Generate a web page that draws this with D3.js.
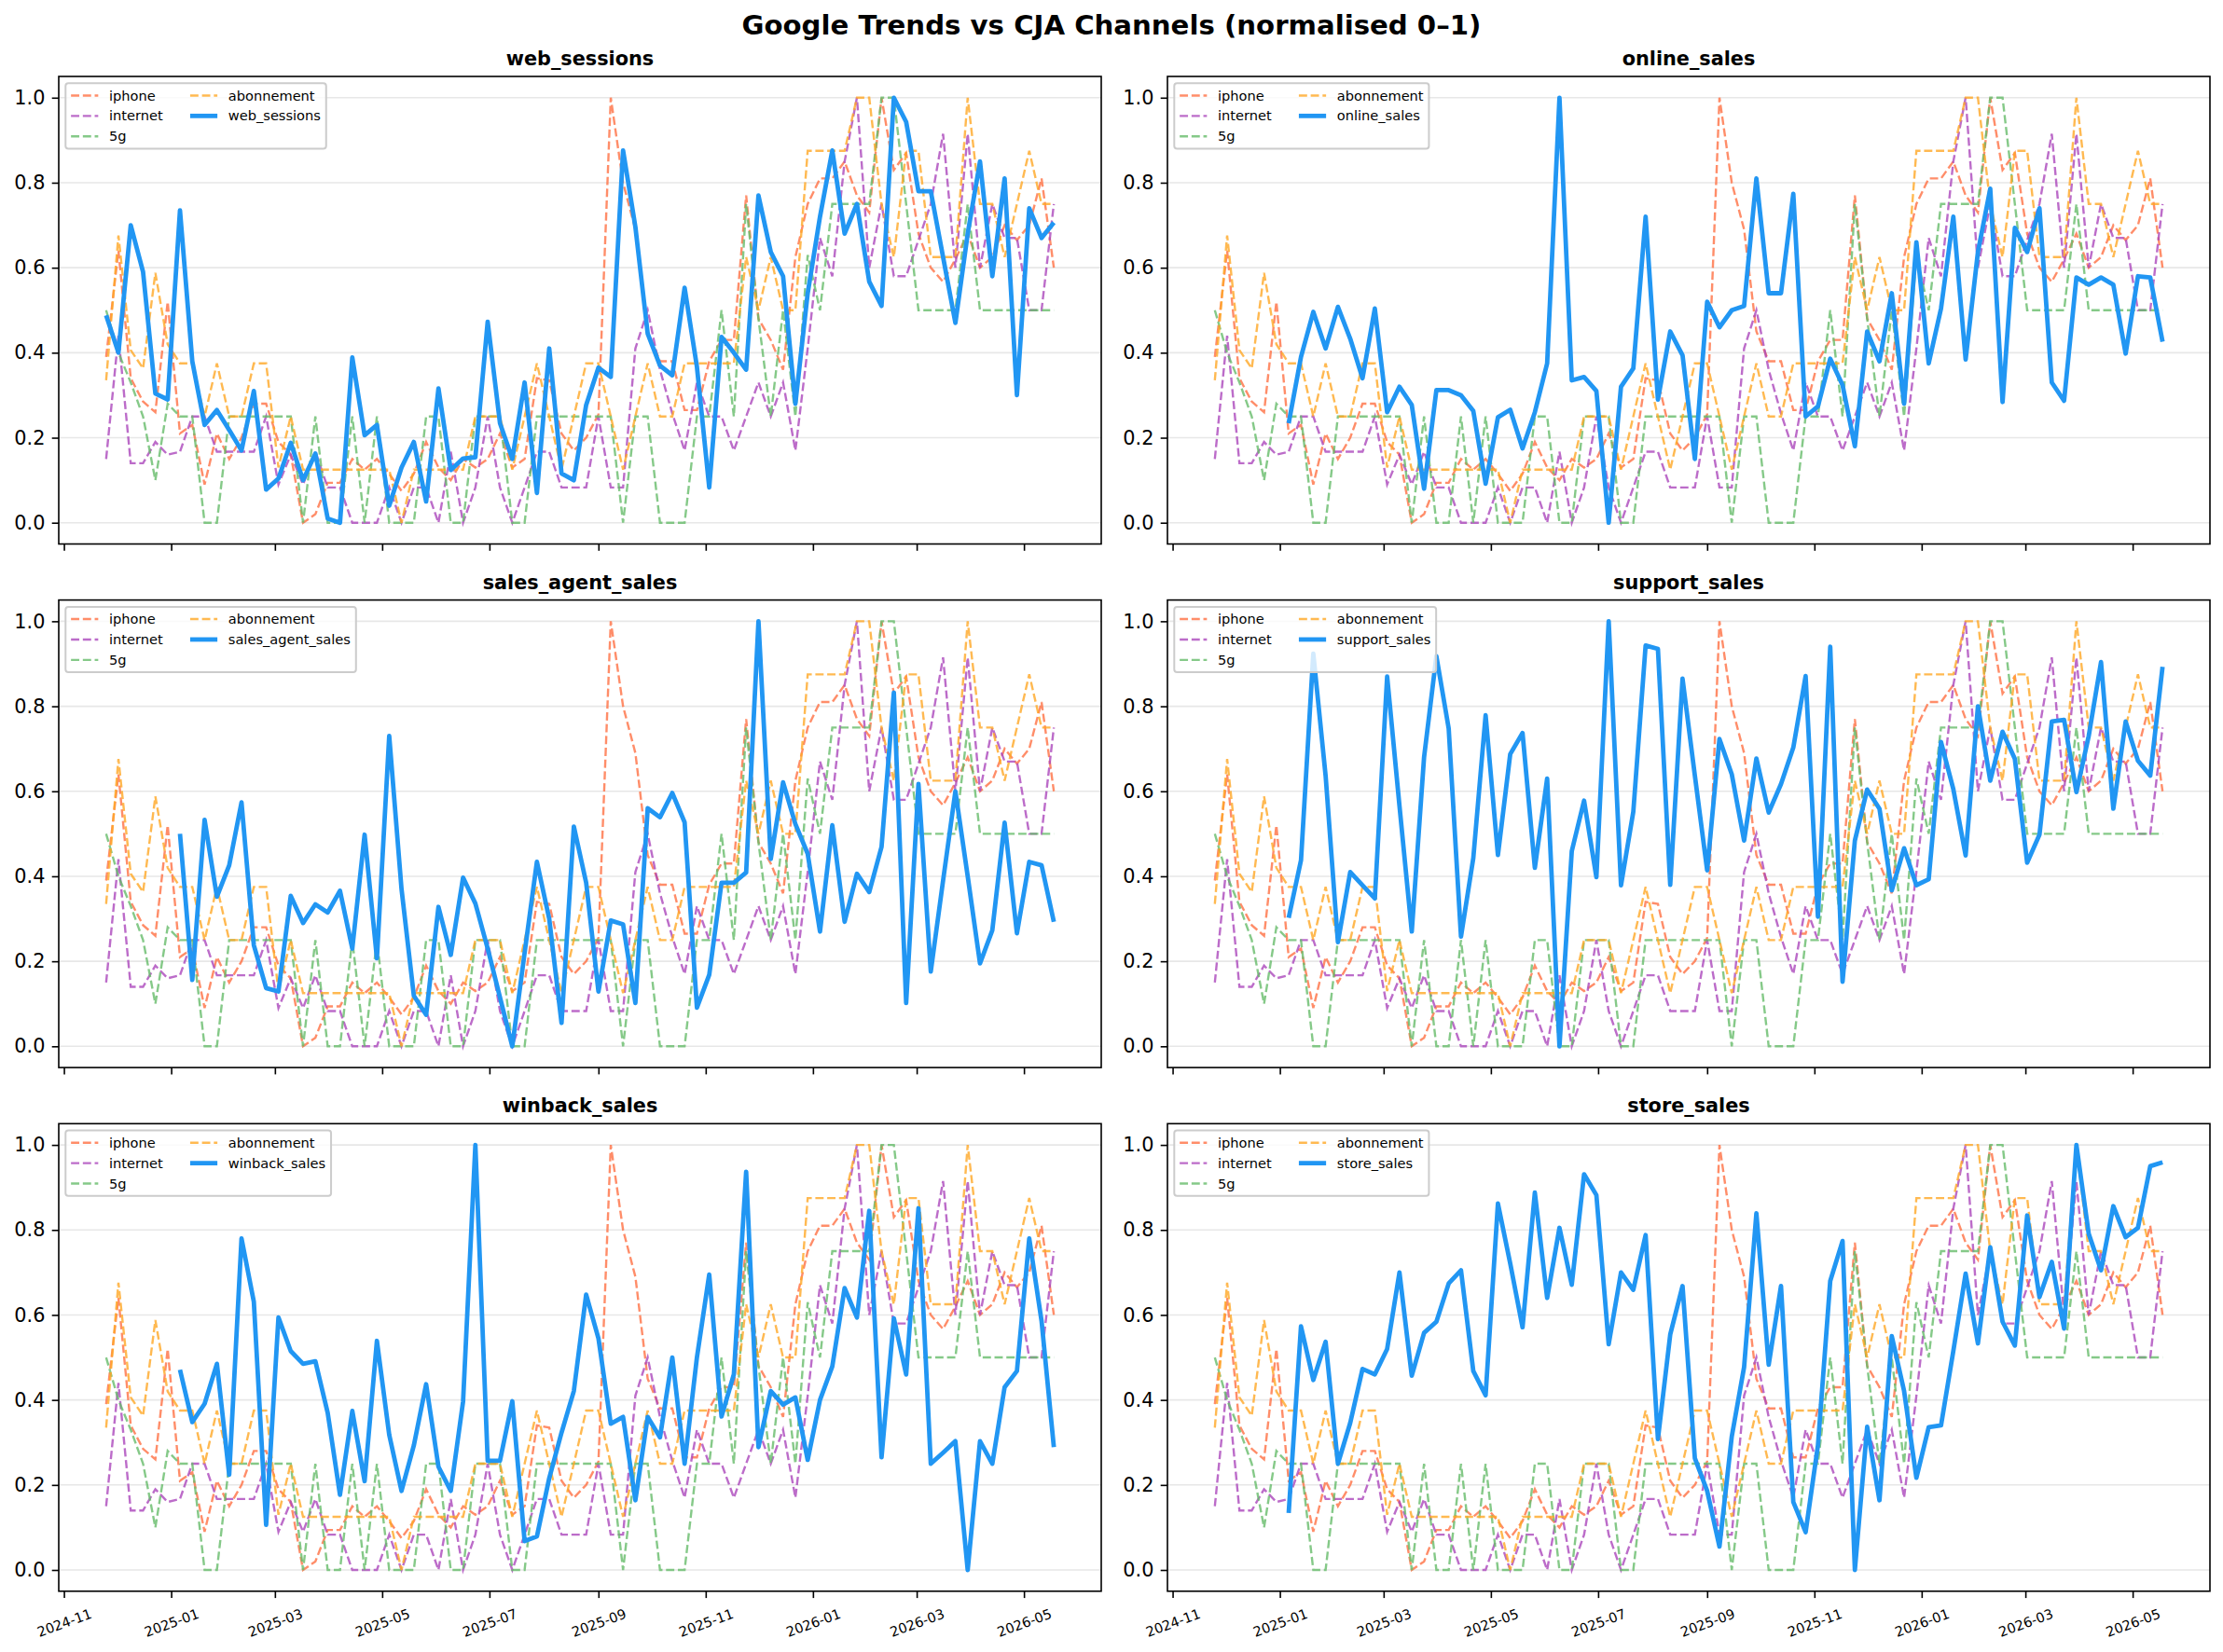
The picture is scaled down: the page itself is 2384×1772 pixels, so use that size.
<!DOCTYPE html>
<html>
<head>
<meta charset="utf-8">
<script src="https://cdn.jsdelivr.net/npm/d3@7"></script>
<style>
  body { margin: 0; background: #fff; }
  svg text { font-family: "DejaVu Sans", sans-serif; }
</style>
</head>
<body>
<svg id="chart" width="2384" height="1772"></svg>
<script>
// weekly index (Mondays), 78 weeks
const firstWeek = "2024-11-25";
const weekCount = 78;

// Google Trends keywords (normalised 0-1)
const iphone = [0.39,0.64,0.34,0.285,0.26,0.52,0.21,0.23,0.09,0.21,
  0.15,0.2,0.28,0.28,0.19,0.16,0.0,0.02,0.094,0.094,
  0.15,0.125,0.15,0.115,0.075,0.115,0.19,0.13,0.1,0.15,
  0.13,0.15,0.21,0.13,0.15,0.34,0.335,0.21,0.17,0.2,
  0.255,1.0,0.8,0.69,0.45,0.38,0.38,0.265,0.265,0.38,
  0.43,0.43,0.77,0.48,0.43,0.36,0.625,0.75,0.81,0.81,
  0.85,0.77,0.73,1.0,0.83,0.87,0.68,0.6,0.567,0.62,
  0.68,0.6,0.625,0.7,0.665,0.7,0.81,0.6];
const internet = [0.15,0.44,0.14,0.14,0.19,0.16,0.167,0.25,0.25,0.167,
  0.167,0.167,0.167,0.25,0.09,0.16,0.09,0.167,0.083,0.083,
  0,0,0,0.083,0,0.083,0.083,0,0.167,0,
  0.083,0.25,0.083,0,0.083,0.167,0.167,0.083,0.083,0.083,
  0.25,0.083,0.083,0.41,0.5,0.36,0.257,0.17,0.33,0.25,
  0.25,0.17,0.25,0.33,0.25,0.33,0.17,0.41,0.67,0.58,
  0.85,1.0,0.6,0.75,0.58,0.58,0.665,0.75,0.915,0.6,
  0.915,0.6,0.75,0.67,0.67,0.5,0.5,0.75];
const fiveG = [0.5,0.4,0.33,0.25,0.1,0.28,0.25,0.25,0,0,
  0.25,0.25,0.25,0.25,0.25,0.25,0,0.25,0,0,
  0.25,0,0.25,0,0,0,0.25,0.25,0,0,
  0.25,0.25,0.25,0,0,0.25,0.25,0.25,0.25,0.25,
  0.25,0.25,0,0.25,0.25,0,0,0,0.25,0.25,
  0.5,0.25,0.75,0.48,0.25,0.5,0.25,0.63,0.5,0.75,
  0.75,0.75,0.75,1.0,1.0,0.75,0.5,0.5,0.5,0.5,
  0.75,0.5,0.5,0.5,0.5,0.5,0.5,0.5];
const abonnement = [0.335,0.676,0.406,0.363,0.588,0.42,0.375,0.375,0.25,0.375,
  0.25,0.25,0.375,0.375,0.13,0.25,0.125,0.125,0.125,0.125,
  0.125,0.125,0.125,0.125,0,0.125,0.125,0.125,0.125,0.125,
  0.25,0.25,0.25,0.125,0.25,0.375,0.25,0.125,0.25,0.375,
  0.375,0.25,0.125,0.25,0.375,0.25,0.25,0.375,0.375,0.375,
  0.375,0.375,0.625,0.5,0.625,0.5,0.5,0.875,0.875,0.875,
  0.875,1.0,1.0,0.75,0.625,0.875,0.875,0.625,0.625,0.625,
  1.0,0.75,0.75,0.625,0.75,0.875,0.75,0.75];

// CJA channels (normalised 0-1), null = no data that week
const webSessions = [0.488,0.40,0.70,0.59,0.304,0.29,0.735,0.38,0.23,0.265,
  0.218,0.17,0.31,0.078,0.104,0.188,0.10,0.163,0.01,0.0,
  0.389,0.206,0.23,0.04,0.13,0.19,0.05,0.316,0.124,0.151,
  0.154,0.473,0.234,0.15,0.33,0.07,0.41,0.116,0.10,0.277,
  0.365,0.343,0.876,0.696,0.445,0.37,0.347,0.553,0.367,0.083,
  0.437,0.40,0.36,0.77,0.637,0.58,0.28,0.54,0.72,0.876,
  0.68,0.75,0.567,0.51,1.0,0.943,0.78,0.78,0.625,0.47,
  0.68,0.85,0.58,0.81,0.30,0.74,0.67,0.706];
const onlineSales = [null,null,null,null,null,null,0.234,0.39,0.496,0.41,
  0.508,0.433,0.34,0.504,0.26,0.32,0.277,0.08,0.312,0.312,
  0.30,0.263,0.092,0.248,0.266,0.175,0.26,0.375,1.0,0.335,
  0.343,0.31,0.0,0.32,0.363,0.72,0.29,0.45,0.394,0.15,
  0.52,0.46,0.5,0.51,0.81,0.54,0.54,0.774,0.25,0.274,
  0.386,0.324,0.18,0.45,0.38,0.54,0.28,0.66,0.375,0.504,
  0.72,0.384,0.637,0.786,0.284,0.694,0.637,0.74,0.33,0.287,
  0.577,0.56,0.577,0.56,0.398,0.58,0.577,0.426];
const salesAgentSales = [null,null,null,null,null,null,0.5,0.156,0.533,0.352,
  0.426,0.574,0.238,0.137,0.129,0.354,0.29,0.334,0.315,0.366,
  0.23,0.498,0.207,0.73,0.37,0.119,0.074,0.328,0.215,0.397,
  0.336,0.23,0.115,0.0,0.22,0.434,0.30,0.055,0.517,0.385,
  0.129,0.296,0.287,0.102,0.56,0.539,0.596,0.527,0.091,0.168,
  0.385,0.385,0.409,1.0,0.441,0.621,0.523,0.453,0.27,0.52,
  0.293,0.406,0.363,0.469,0.832,0.102,0.617,0.176,0.39,0.6,
  0.40,0.195,0.273,0.526,0.266,0.434,0.426,0.293];
const supportSales = [null,null,null,null,null,null,0.302,0.4375,0.924,0.637,
  0.245,0.41,0.379,0.348,0.87,0.566,0.27,0.68,0.918,0.748,
  0.258,0.443,0.779,0.45,0.6875,0.737,0.42,0.63,0.0,0.459,
  0.578,0.398,1.0,0.379,0.552,0.943,0.935,0.38,0.865,0.637,
  0.414,0.723,0.64,0.484,0.677,0.55,0.617,0.703,0.871,0.305,
  0.94,0.152,0.484,0.604,0.559,0.367,0.466,0.379,0.393,0.716,
  0.605,0.449,0.80,0.625,0.74,0.676,0.432,0.498,0.764,0.768,
  0.598,0.73,0.904,0.559,0.764,0.672,0.637,0.893];
const winbackSales = [null,null,null,null,null,null,0.471,0.348,0.391,0.485,
  0.224,0.78,0.631,0.106,0.594,0.515,0.485,0.491,0.37,0.177,
  0.374,0.209,0.539,0.318,0.186,0.293,0.437,0.243,0.186,0.396,
  1.0,0.257,0.257,0.397,0.068,0.079,0.216,0.323,0.421,0.648,
  0.545,0.344,0.36,0.164,0.36,0.312,0.5,0.25,0.5,0.695,
  0.361,0.46,0.937,0.289,0.421,0.389,0.406,0.259,0.4,0.479,
  0.663,0.594,0.845,0.265,0.592,0.46,0.851,0.25,0.276,0.303,
  0.0,0.303,0.25,0.43,0.468,0.78,0.586,0.289];
const storeSales = [null,null,null,null,null,null,0.134,0.573,0.447,0.537,
  0.25,0.346,0.473,0.46,0.52,0.7,0.457,0.558,0.584,0.674,
  0.705,0.468,0.411,0.862,0.721,0.571,0.888,0.64,0.805,0.671,
  0.931,0.882,0.531,0.7,0.659,0.788,0.308,0.554,0.668,0.263,
  0.186,0.055,0.314,0.477,0.839,0.483,0.668,0.16,0.089,0.293,
  0.68,0.774,0.0,0.337,0.164,0.55,0.421,0.217,0.336,0.34,
  0.515,0.697,0.533,0.759,0.584,0.528,0.834,0.642,0.725,0.568,
  1.0,0.791,0.705,0.856,0.783,0.805,0.95,0.959];

const trendNames = ["iphone", "internet", "5g", "abonnement"];
const channelNames = ["web_sessions", "online_sales", "sales_agent_sales",
                      "support_sales", "winback_sales", "store_sales"];
const yTicks = [0, 0.2, 0.4, 0.6, 0.8, 1.0];

const trendColors = ["#FF7043", "#AB47BC", "#66BB6A", "#FFA726"];
const channelColor = "#2196F3";

// tables built from the arrays above
const start = d3.utcParse("%Y-%m-%d")(firstWeek);
const weeks = d3.range(weekCount).map(i => d3.utcDay.offset(start, 7 * i));
const trends = [iphone, internet, fiveG, abonnement].map((v, i) =>
  ({ name: trendNames[i], values: v, color: trendColors[i] }));
const channels = [webSessions, onlineSales, salesAgentSales,
                  supportSales, winbackSales, storeSales].map((v, i) =>
  ({ name: channelNames[i], values: v }));

// layout
const colX = [63, 1252], panelW = 1118;
const rowY = [82, 643.6, 1205.3], panelH = 501.5;
const fs = 14.6; // legend font size
const dashW = 2.4, dashes = "8.9,3.8";

const svg = d3.select("#chart");
svg.append("rect").attr("width", 2384).attr("height", 1772).attr("fill", "#fff");

svg.append("text")
  .attr("x", 1192).attr("y", 37)
  .attr("text-anchor", "middle")
  .attr("font-size", 29.2).attr("font-weight", "bold")
  .text("Google Trends vs CJA Channels (normalised 0\u20131)");

// 5% margin on the date range, like matplotlib
const span = weeks[weeks.length - 1] - weeks[0];
const xDomain = [new Date(+weeks[0] - span * 0.05),
                 new Date(+weeks[weeks.length - 1] + span * 0.05)];

channels.forEach((ch, i) => {
  const col = i % 2, row = Math.floor(i / 2);
  const left = colX[col], top = rowY[row];

  const x = d3.scaleUtc().domain(xDomain).range([left, left + panelW]);
  const y = d3.scaleLinear().domain([-0.05, 1.05]).range([top + panelH, top]);

  const g = svg.append("g");

  // horizontal grid
  g.selectAll(".grid").data(yTicks).join("line")
    .attr("x1", left).attr("x2", left + panelW)
    .attr("y1", d => y(d)).attr("y2", d => y(d))
    .attr("stroke", "#b0b0b0").attr("stroke-opacity", 0.3)
    .attr("stroke-width", 1.6);

  const line = d3.line()
    .defined(d => d != null)
    .x((d, k) => x(weeks[k]))
    .y(d => y(d));

  // trend lines, dashed
  trends.forEach(t => {
    g.append("path").datum(t.values)
      .attr("d", line)
      .attr("fill", "none")
      .attr("stroke", t.color).attr("stroke-opacity", 0.8)
      .attr("stroke-width", dashW)
      .attr("stroke-dasharray", dashes);
  });

  // channel line
  g.append("path").datum(ch.values)
    .attr("d", line)
    .attr("fill", "none")
    .attr("stroke", channelColor)
    .attr("stroke-width", 4.8)
    .attr("stroke-linejoin", "round");

  // frame
  g.append("rect")
    .attr("x", left).attr("y", top)
    .attr("width", panelW).attr("height", panelH)
    .attr("fill", "none").attr("stroke", "#000").attr("stroke-width", 1.6);

  // y axis
  const ya = g.append("g")
    .attr("transform", `translate(${left},0)`)
    .call(d3.axisLeft(y).tickValues(yTicks).tickFormat(d3.format(".1f"))
      .tickSize(7.3).tickPadding(7.3));
  ya.select(".domain").remove();
  ya.attr("font-family", "DejaVu Sans").attr("font-size", 20.8);
  ya.selectAll("line").attr("stroke", "#000").attr("stroke-width", 1.6);
  ya.selectAll("text").attr("fill", "#000");

  // x axis
  const xa = g.append("g")
    .attr("transform", `translate(0,${top + panelH})`)
    .call(d3.axisBottom(x).ticks(d3.utcMonth.every(2))
      .tickFormat(d3.utcFormat("%Y-%m")).tickSize(7.3));
  xa.select(".domain").remove();
  xa.attr("font-family", "DejaVu Sans").attr("font-size", 14.6);
  xa.selectAll("line").attr("stroke", "#000").attr("stroke-width", 1.6);
  if (row < 2) {
    xa.selectAll("text").remove();
  } else {
    xa.selectAll("text")
      .attr("fill", "#000")
      .attr("y", 0).attr("dy", "0.35em")
      .attr("text-anchor", "middle")
      .attr("transform", "translate(0,34) rotate(-20)");
  }

  // panel title
  g.append("text")
    .attr("x", left + panelW / 2).attr("y", top - 12)
    .attr("text-anchor", "middle")
    .attr("font-size", 20.8).attr("font-weight", "bold")
    .text(ch.name);

  // legend, two columns
  const items = trends.map(t => ({ label: t.name, color: t.color, dashed: true }))
    .concat([{ label: ch.name, color: channelColor, dashed: false }]);
  const lg = g.append("g").attr("transform", `translate(${left + 7.3},${top + 7.3})`);
  const box = lg.append("rect");
  const colOf = k => (k < 3 ? 0 : 1);
  const rowOf = k => (k < 3 ? k : k - 3);
  const texts = lg.selectAll(".lt").data(items).join("text")
    .attr("font-size", fs).attr("dy", "0.35em")
    .text(d => d.label);
  const colW = [0, 1].map(c => d3.max(texts.filter((d, k) => colOf(k) === c).nodes(),
    n => n.getComputedTextLength()));
  const colStart = [0.4 * fs, 0.4 * fs + 2.8 * fs + colW[0] + 2 * fs];
  texts
    .attr("x", (d, k) => colStart[colOf(k)] + 2.8 * fs)
    .attr("y", (d, k) => 0.9 * fs + rowOf(k) * 1.5 * fs);
  lg.selectAll(".lh").data(items).join("line")
    .attr("x1", (d, k) => colStart[colOf(k)])
    .attr("x2", (d, k) => colStart[colOf(k)] + 2 * fs)
    .attr("y1", (d, k) => 0.9 * fs + rowOf(k) * 1.5 * fs)
    .attr("y2", (d, k) => 0.9 * fs + rowOf(k) * 1.5 * fs)
    .attr("stroke", d => d.color)
    .attr("stroke-opacity", d => (d.dashed ? 0.8 : 1))
    .attr("stroke-width", d => (d.dashed ? dashW : 4.8))
    .attr("stroke-dasharray", d => (d.dashed ? dashes : null));
  box.attr("x", 0).attr("y", 0)
    .attr("width", colStart[1] + 2.8 * fs + colW[1] + 0.4 * fs)
    .attr("height", 4.8 * fs)
    .attr("rx", 3)
    .attr("fill", "#fff").attr("fill-opacity", 0.8)
    .attr("stroke", "#cccccc").attr("stroke-width", 2);
});
</script>
</body>
</html>
